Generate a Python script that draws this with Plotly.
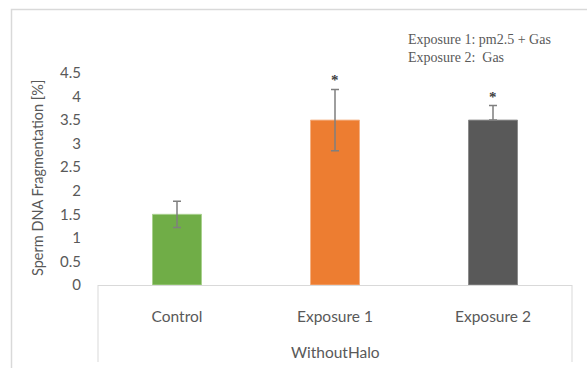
import plotly.graph_objects as go

# Data
categories = ["Control", "Exposure 1", "Exposure 2"]
values = [1.5, 3.5, 3.5]
err_up = [0.28, 0.65, 0.31]
err_down = [0.28, 0.65, 0.0]
significant = [False, True, True]
y_ticks = [0, 0.5, 1, 1.5, 2, 2.5, 3, 3.5, 4, 4.5]
group_label = "WithoutHalo"
y_title = "Sperm DNA Fragmentation [%]"
legend_lines = ["Exposure 1: pm2.5 + Gas", "Exposure 2:  Gas"]

bar_colors = ["#70ad47", "#ed7d31", "#595959"]
edge_colors = ["#a9d18e", "#f4b183", "#8c8c8c"]

W, H = 587, 368
L, R, T, B = 98, 15, 73, 83
pw, ph = W - L - R, H - T - B


def px(x):
    return (x - L) / pw


def py(y):
    return (H - B - y) / ph


fig = go.Figure()
fig.add_trace(go.Bar(
    x=categories,
    y=values,
    marker=dict(color=bar_colors, line=dict(color=edge_colors, width=1)),
    error_y=dict(type="data", symmetric=False, array=err_up, arrayminus=err_down,
                 color="#7f7f7f", thickness=1.5, width=4),
    showlegend=False,
))

annotations = []
for c, v, e, s in zip(categories, values, err_up, significant):
    if s:
        annotations.append(dict(
            x=c, y=v + e, xref="x", yref="y", text="<b>*</b>", showarrow=False,
            yanchor="bottom", yshift=-1,
            font=dict(family="Liberation Serif", size=15, color="#404040"),
        ))

annotations.append(dict(
    x=0.5, y=py(352), xref="paper", yref="paper", text=group_label,
    showarrow=False, xanchor="center", yanchor="middle",
    font=dict(family="Lato", size=15.5, color="#595959"),
))
annotations.append(dict(
    x=px(406), y=py(30), xref="paper", yref="paper",
    text="<br>".join(legend_lines), showarrow=False, align="left",
    xanchor="left", yanchor="top",
    font=dict(family="Liberation Serif", size=14, color="#595959"),
))
annotations.append(dict(
    x=px(37), y=py(178), xref="paper", yref="paper", text=y_title,
    showarrow=False, textangle=-90, xanchor="center", yanchor="middle",
    font=dict(family="Lato", size=14.5, color="#595959"),
))

line_style = dict(color="#d9d9d9", width=1)
shapes = [
    # multi-level category box
    dict(type="line", xref="paper", yref="paper", x0=0, x1=0, y0=0, y1=py(362), line=line_style),
    dict(type="line", xref="paper", yref="paper", x0=1, x1=1, y0=0, y1=py(362), line=line_style),
    # chart area border
    dict(type="rect", xref="paper", yref="paper", x0=px(11.5), x1=px(600), y0=py(9.5), y1=py(380),
         line=dict(color="#d9d9d9", width=1.5)),
]

fig.update_layout(
    width=W, height=H,
    margin=dict(l=L, r=R, t=T, b=B),
    paper_bgcolor="white", plot_bgcolor="white",
    bargap=0.69,
    annotations=annotations,
    shapes=shapes,
    xaxis=dict(
        showline=True, linecolor="#d9d9d9", linewidth=1,
        showgrid=False, ticks="", ticklabelstandoff=17,
        tickfont=dict(family="Lato", size=15.5, color="#595959"),
    ),
    yaxis=dict(
        range=[0, 4.5], tickvals=y_ticks, ticktext=[f"{t:g}" for t in y_ticks],
        showgrid=False, showline=False, zeroline=False, ticks="",
        ticklabelstandoff=16,
        tickfont=dict(family="Lato", size=15, color="#595959"),
    ),
)

fig.write_html("out.html")
